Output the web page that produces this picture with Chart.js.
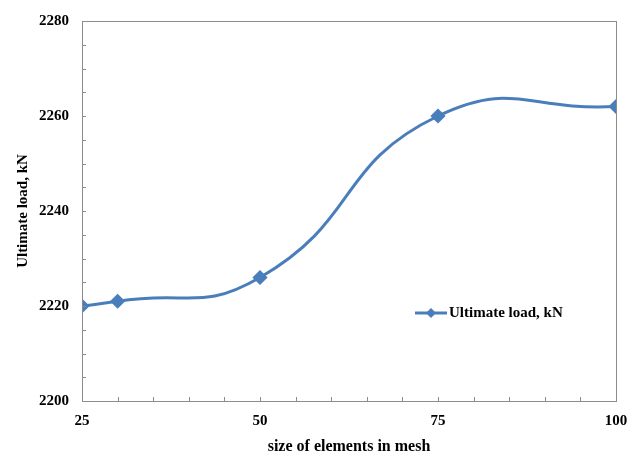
<!DOCTYPE html>
<html>
<head>
<meta charset="utf-8">
<script src="https://cdn.jsdelivr.net/npm/chart.js@4/dist/chart.umd.min.js"></script>
<style>
  html, body { margin: 0; padding: 0; background: #fff; }
  #wrap { width: 637px; height: 452px; }
</style>
</head>
<body>
<div id="wrap"><canvas id="chart" width="637" height="452"></canvas></div>
<script>
// mesh element size (x) and ultimate load (y)
const meshSizes = [25, 30, 50, 75, 100]
const ultimateLoad = [2220, 2221, 2226, 2260, 2262]
const xTicks = [25, 50, 75, 100]
const yTicks = [2200, 2220, 2240, 2260, 2280]

const blue = '#4a7ebb'
const axisGrey = '#8c8c8c'
const serif = "'Liberation Serif', 'Times New Roman', serif"

// plot frame, inner tick marks every 5 units and an in-plot legend
const framePlugin = {
  id: 'frame',
  afterDraw(chart) {
    const { ctx, chartArea: a, scales } = chart
    ctx.save()
    ctx.strokeStyle = axisGrey
    ctx.lineWidth = 1
    ctx.strokeRect(a.left + 0.5, a.top + 0.5, a.right - a.left, a.bottom - a.top)
    ctx.beginPath()
    for (let v = 25; v <= 100; v += 5) {
      const x = Math.round(scales.x.getPixelForValue(v)) + 0.5
      ctx.moveTo(x, a.bottom)
      ctx.lineTo(x, a.bottom - 4)
    }
    for (let v = 2200; v <= 2280; v += 5) {
      const y = Math.round(scales.y.getPixelForValue(v)) + 0.5
      ctx.moveTo(a.left, y)
      ctx.lineTo(a.left + 4, y)
    }
    ctx.stroke()

    // legend
    const lx = 415, ly = 313
    ctx.strokeStyle = blue
    ctx.lineWidth = 3
    ctx.beginPath()
    ctx.moveTo(lx, ly)
    ctx.lineTo(lx + 32, ly)
    ctx.stroke()
    ctx.fillStyle = blue
    ctx.beginPath()
    ctx.moveTo(lx + 16, ly - 5)
    ctx.lineTo(lx + 21, ly)
    ctx.lineTo(lx + 16, ly + 5)
    ctx.lineTo(lx + 11, ly)
    ctx.closePath()
    ctx.fill()
    ctx.fillStyle = '#000'
    ctx.font = 'bold 15px ' + serif
    ctx.textBaseline = 'middle'
    ctx.fillText('Ultimate load, kN', lx + 34, ly)
    ctx.restore()
  }
}

new Chart(document.getElementById('chart'), {
  type: 'line',
  data: {
    datasets: [
      {
        label: 'Ultimate load, kN',
        data: meshSizes.map((x, i) => ({ x: x, y: ultimateLoad[i] })),
        borderColor: blue,
        backgroundColor: blue,
        borderWidth: 3,
        pointStyle: 'rectRot',
        pointRadius: 5.5,
        pointHoverRadius: 5.5,
        tension: 0.5,
        fill: false
      }
    ]
  },
  options: {
    responsive: false,
    animation: false,
    layout: {
      padding: { top: 21, right: 21, bottom: 0, left: 0 }
    },
    plugins: {
      legend: { display: false },
      tooltip: { enabled: false }
    },
    scales: {
      x: {
        type: 'linear',
        min: 25,
        max: 100,
        afterBuildTicks: (s) => { s.ticks = xTicks.map(v => ({ value: v })) },
        afterFit: (s) => { s.height = 51 },
        grid: { display: false },
        border: { display: false },
        ticks: {
          color: '#000',
          font: { family: serif, size: 15, weight: 'bold' },
          padding: 3,
          callback: (v) => String(v)
        },
        title: {
          display: true,
          text: 'size of elements in mesh',
          color: '#000',
          font: { family: serif, size: 16, weight: 'bold', lineHeight: 0.7 },
          padding: { top: 0, bottom: 0 }
        }
      },
      y: {
        min: 2200,
        max: 2280,
        afterBuildTicks: (s) => { s.ticks = yTicks.map(v => ({ value: v })) },
        afterFit: (s) => { s.width = 82 },
        grid: { display: false },
        border: { display: false },
        ticks: {
          color: '#000',
          font: { family: serif, size: 15, weight: 'bold' },
          padding: 5,
          callback: (v) => String(v)
        },
        title: {
          display: true,
          text: 'Ultimate load, kN',
          color: '#000',
          font: { family: serif, size: 15, weight: 'bold' },
          padding: { top: 14, bottom: 0 }
        }
      }
    }
  },
  plugins: [framePlugin]
})
</script>
</body>
</html>
